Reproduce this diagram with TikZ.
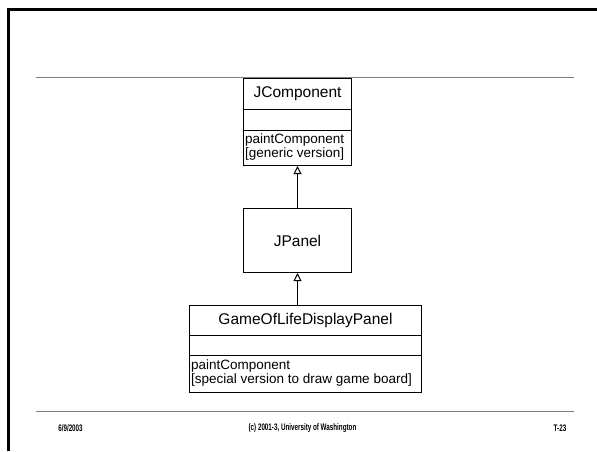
\documentclass[tikz,border=0pt]{standalone}
\usepackage{fontspec}
\setmainfont{Liberation Sans}
\newfontfamily\footfont[FakeStretch=0.66]{Liberation Sans}
\usetikzlibrary{arrows.meta}
\begin{document}
\begin{tikzpicture}[x=1pt,y=-1pt,
  box/.style={draw, line width=1pt, inner sep=0pt, minimum width=108pt, anchor=north west,
              font=\fontsize{15.5}{18}\selectfont},
  optext/.style={inner sep=0pt, anchor=base west, font=\fontsize{13.5}{14}\selectfont},
  rulel/.style={draw=black!50, line width=1pt},
  gen/.style={-{Triangle[open,width=8pt,length=8pt]}, line width=1pt},
  foot/.style={inner sep=0pt, font=\footfont\bfseries\fontsize{9.5}{10}\selectfont}]
\useasboundingbox (0,0) rectangle (597,451);
\fill[white] (0,0) rectangle (597,451);
% frame
\draw[line width=3pt] (8,451) -- (8,9) -- (597,9);
% rules
\draw[rulel] (36,77) -- (574,77);
\draw[rulel] (36,411) -- (574,411);
% JComponent
\node[box, minimum height=31pt] (jc1) at (243,78) {JComponent};
\node[box, minimum height=21pt] (jc2) at (243,109) {};
\node[box, minimum height=35pt] (jc3) at (243,130) {};
\node[optext] (jc3a) at (245,143.5) {paintComponent};
\node[optext] (jc3b) at (245,157.5) {[generic version]};
% JPanel
\node[box, minimum height=64pt] (jp) at (243,208) {JPanel};
% GameOfLifeDisplayPanel
\node[box, minimum width=232pt, minimum height=30pt] (g1) at (189,305) {GameOfLifeDisplayPanel};
\node[box, minimum width=232pt, minimum height=20pt] (g2) at (189,335) {};
\node[box, minimum width=232pt, minimum height=37pt] (g3) at (189,355) {};
\node[optext] (g3a) at (191,369.5) {paintComponent};
\node[optext] (g3b) at (191,383.5) {[special version to draw game board]};
% generalisations
\draw[gen] (jp.north) -- (jp.north |- jc3.south);
\draw[gen] (jp.south |- g1.north) -- (jp.south);
% footer
\node[foot] (fd) at (70.5,428) {6/9/2003};
\node[foot] (fc) at (302.5,428) {(c) 2001-3, University of Washington};
\node[foot] (ft) at (560,428) {T-23};
\end{tikzpicture}
\end{document}
